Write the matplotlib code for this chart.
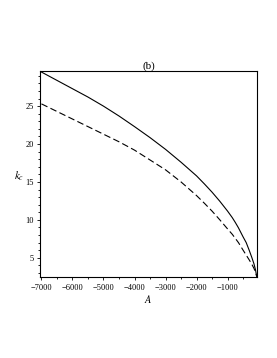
import matplotlib
matplotlib.use("Agg")
import matplotlib.pyplot as plt
from matplotlib.ticker import MultipleLocator

# values
A_vals = [-7000, -6500, -6000, -5500, -5000, -4500, -4000, -3500, -3000,
          -2500, -2000, -1750, -1500, -1250, -1000, -850, -750, -650,
          -500, -400, -300, -220, -150, -100, -60]
k_solid = [29.5, 28.4, 27.3, 26.2, 25.0, 23.7, 22.3, 20.85, 19.3,
           17.6, 15.8, 14.75, 13.65, 12.45, 11.15, 10.3, 9.65, 8.95,
           7.75, 7.0, 5.95, 5.05, 4.2, 3.4, 2.5]
k_dashed = [25.3, 24.3, 23.3, 22.3, 21.3, 20.3, 19.2, 17.9, 16.6,
            15.0, 13.2, 12.2, 11.15, 10.0, 8.8, 8.1, 7.55, 7.0,
            6.0, 5.35, 4.7, 4.15, 3.6, 3.1, 2.5]

plt.rcParams["font.family"] = ["Liberation Serif", "DejaVu Serif"]
plt.rcParams["mathtext.fontset"] = "stix"

fig = plt.figure(figsize=(2.77, 3.58), dpi=100)
ax = fig.add_axes([0.144, 0.225, 0.784, 0.578])

ax.plot(A_vals, k_solid, color="black", linewidth=0.8)
ax.plot(A_vals, k_dashed, color="black", linewidth=0.8, dashes=(6, 3))

ax.set_xlim(-7050, -50)
ax.set_ylim(2.4, 29.7)
ax.xaxis.set_major_locator(MultipleLocator(1000))
ax.xaxis.set_minor_locator(MultipleLocator(500))
ax.yaxis.set_major_locator(MultipleLocator(5))
ax.yaxis.set_minor_locator(MultipleLocator(1))
ax.tick_params(which="both", direction="out", labelsize=6, width=0.6, pad=2)
ax.tick_params(which="major", length=2.5)
ax.tick_params(which="minor", length=1.5)
for s in ax.spines.values():
    s.set_linewidth(0.8)

ax.set_title("(b)", fontsize=8, pad=1)
ax.set_xlabel("$A$", fontsize=7.5, labelpad=1)
ax.set_ylabel("$k_c$", fontsize=8, rotation=0)
ax.yaxis.set_label_coords(-0.097, 0.457)

fig.savefig("out.png", dpi=100)
